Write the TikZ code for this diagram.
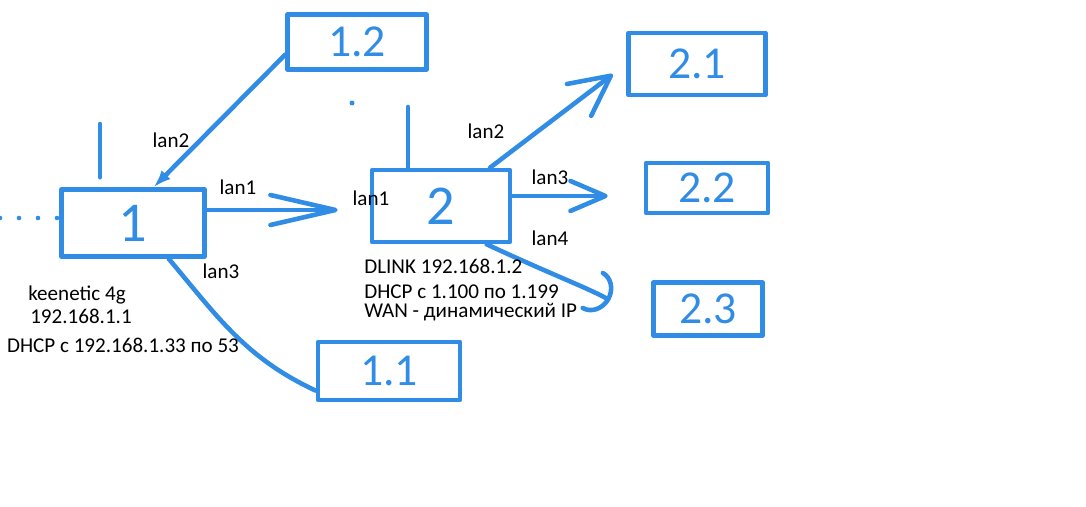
\documentclass[tikz,border=0pt]{standalone}
\usepackage{fontspec}
\setmainfont{Carlito}
\usetikzlibrary{arrows.meta}
\definecolor{penblue}{RGB}{48,140,228}
\begin{document}
\begin{tikzpicture}[x=0.02cm,y=-0.02cm,
    wire/.style={draw=penblue,line width=2.6pt,line cap=round,line join=round},
    box/.style={wire,text=penblue,inner sep=0pt,font=\fontsize{26}{26}\selectfont},
    router/.style={box,font=\fontsize{32}{32}\selectfont},
    lbl/.style={font=\fontsize{12}{14}\selectfont,inner sep=0pt}]
  \useasboundingbox (0,0) rectangle (1086,507);
  \node[router,minimum width=2.86cm,minimum height=1.34cm] (r1) at (133,223) {1};
  \node[router,minimum width=2.76cm,minimum height=1.44cm] (r2) at (441,206) {2};
  \node[box,minimum width=2.78cm,minimum height=1.1cm] (b12) at (357,42) {1.2};
  \node[box,minimum width=2.84cm,minimum height=1.16cm] (b11) at (389,371) {1.1};
  \node[box,minimum width=2.74cm,minimum height=1.24cm] (b21) at (697,64) {2.1};
  \node[box,minimum width=2.44cm,minimum height=1.0cm] (b22) at (707,188) {2.2};
  \node[box,minimum width=2.18cm,minimum height=1.06cm] (b23) at (708,309) {2.3};
  \coordinate (ant1) at (100,124);
  \coordinate (ant2) at (408,107);
  \coordinate (isp) at (0,218);
  \coordinate (spot) at (352,103);
  \draw[wire,shorten >=0.2cm] (ant1) -- (ant1 |- r1.north);
  \draw[wire] (ant2) -- (ant2 |- r2.north);
  \draw[wire,dash pattern=on 0pt off 0.38cm] (isp) -- (isp -| r1.west);
  \fill[penblue] (spot) circle (0.05cm);
  \draw[wire,-{Latex[length=0.35cm,width=0.25cm]}] (b12.190) -- (r1.60);
  \draw[wire,-{Straight Barb[length=1.3cm,width=0.6cm,round]},shorten >=0.64cm] (r1.10) -- (r1.10 -| r2.west);
  \draw[wire] (r1.-45) to[out=-50,in=155] (b11.195);
  \draw[wire,-{Straight Barb[length=0.8cm,width=0.8cm,round]},shorten >=0.34cm] (r2.38) -- (b21.west);
  \draw[wire,-{Straight Barb[length=0.7cm,width=0.6cm,round]},shorten >=0.72cm] (r2.8) -- (r2.8 -| b22.west);
  \draw[wire,-{Arc Barb[length=0.4cm,width=0.9cm,round]},shorten >=0.95cm] (r2.-40) to[out=-25,in=150] (b23.195);
  \node[lbl] (l12) at (171,140) {lan2};
  \node[lbl] (l11) at (238,187) {lan1};
  \node[lbl] (l13) at (221,271) {lan3};
  \node[lbl] (name1) at (77,295) {keenetic 4g};
  \node[lbl] (ip1) at (81,316) {192.168.1.1};
  \node[lbl] (dhcp1) at (123,345) {DHCP с 192.168.1.33 по 53};
  \node[lbl] (l21) at (371,198) {lan1};
  \node[lbl] (l22) at (486,131) {lan2};
  \node[lbl] (l23) at (550,177) {lan3};
  \node[lbl] (l24) at (550,238) {lan4};
  \node[lbl,anchor=west] (name2) at (364,266) {DLINK 192.168.1.2};
  \node[lbl,anchor=west] (dhcp2) at (364,292) {DHCP с 1.100 по 1.199};
  \node[lbl,anchor=west] (wan2) at (364,312) {WAN - динамический IP};
\end{tikzpicture}
\end{document}
